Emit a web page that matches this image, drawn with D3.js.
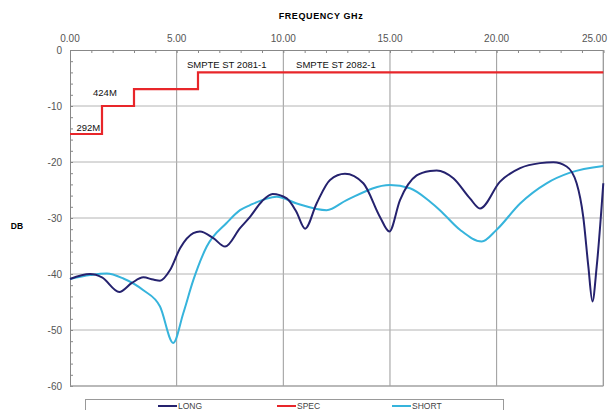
<!DOCTYPE html>
<html>
<head>
<meta charset="utf-8">
<script src="https://cdn.jsdelivr.net/npm/d3@7"></script>
<style>
  body { margin: 0; background: #fff; }
  svg { display: block; font-family: "Liberation Sans", Arial, sans-serif; }
</style>
</head>
<body>
<svg id="chart" width="608" height="410"></svg>
<script>
// frequency (GHz) / dB readings
const longFreq = [0, 0.94, 1.5, 2.31, 2.9, 3.44, 3.9, 4.22, 4.69, 5.16, 5.78, 6.09, 6.72, 7.27, 7.97, 8.44, 9.0, 9.5, 10.16, 10.6, 11.02, 11.56, 12.19, 12.89, 13.75, 14.53, 14.97, 15.47, 16.25, 16.88, 17.19, 17.97, 18.75, 19.22, 20.16, 21.1, 22.03, 22.66, 23.28, 23.75, 24.06, 24.3, 24.49, 24.69, 25];
const longDb   = [-40.9, -40.0, -40.6, -43.2, -41.6, -40.6, -41.0, -41.2, -39.3, -35.4, -32.7, -32.4, -33.6, -35.1, -31.8, -29.8, -27.0, -25.7, -26.5, -28.8, -31.9, -27.4, -23.2, -22.1, -23.8, -29.8, -32.4, -26.8, -22.4, -21.6, -21.5, -22.9, -26.5, -28.3, -23.5, -21.1, -20.2, -20.05, -20.8, -23.8, -29.8, -38.7, -44.9, -38.7, -23.8];

const shortFreq = [0, 0.94, 1.72, 2.5, 3.44, 4.22, 4.84, 5.31, 5.78, 6.41, 7.34, 7.97, 8.44, 9.69, 10.63, 12.03, 12.97, 15.0, 15.94, 16.88, 17.34, 18.28, 19.3, 20.0, 21.1, 22.34, 23.44, 25];
const shortDb   = [-40.9, -40.2, -39.9, -40.8, -42.9, -45.8, -52.3, -47.0, -41.1, -35.1, -30.9, -28.6, -27.7, -26.2, -27.4, -28.6, -26.8, -24.1, -24.7, -27.1, -28.6, -32.1, -34.2, -32.1, -27.4, -23.8, -21.9, -20.7];

const specFreq = [0, 1.5, 1.5, 3.0, 3.0, 6.0, 6.0, 25];
const specDb   = [-15, -15, -10, -10, -7, -7, -4, -4];

const specLabels = ["292M", "424M", "SMPTE ST 2081-1", "SMPTE ST 2082-1"];
const specLabelFreq = [0.3, 1.08, 5.48, 10.6];
const specLabelDb = [-14.5, -8.3, -3.3, -3.3];

const xTicks = [0, 5, 10, 15, 20, 25];
const yTicks = [0, -10, -20, -30, -40, -50, -60];
const seriesNames = ["LONG", "SPEC", "SHORT"];
const seriesColors = ["#25226e", "#e8262a", "#36b4dc"];

const svg = d3.select("#chart");
const plotLeft = 70, plotRight = 603.3, plotTop = 50, plotBottom = 386;

const x = d3.scaleLinear().domain([0, 25]).range([plotLeft, plotRight]);
const y = d3.scaleLinear().domain([0, -60]).range([plotTop, plotBottom]);

// grid
svg.append("g").selectAll("line").data(xTicks.slice(1)).join("line")
    .attr("x1", d => x(d)).attr("x2", d => x(d))
    .attr("y1", plotTop).attr("y2", plotBottom)
    .attr("stroke", "#9a9a9a").attr("stroke-width", 1);
svg.append("g").selectAll("line").data(yTicks.slice(1)).join("line")
    .attr("x1", plotLeft).attr("x2", plotRight)
    .attr("y1", d => y(d)).attr("y2", d => y(d))
    .attr("stroke", "#b4b4b4").attr("stroke-width", 1);

// axes (top and left, ticks pointing inward)
const xAxis = d3.axisTop(x).tickValues(d3.range(0, 26, 1)).tickSize(-3).tickFormat("");
const gx = svg.append("g").attr("transform", `translate(0,${plotTop})`).call(xAxis);
gx.selectAll("line").attr("stroke", "#888");
gx.select(".domain").attr("stroke", "#888");

// last label sits at the window edge, so anchor it at its end
svg.append("g").selectAll("text").data(xTicks).join("text")
    .attr("x", (d, i) => i === xTicks.length - 1 ? 607 : x(d)).attr("y", 42)
    .attr("text-anchor", (d, i) => i === xTicks.length - 1 ? "end" : "middle")
    .attr("font-size", 10).attr("fill", "#555")
    .text(d => d3.format(".2f")(d));

const yAxis = d3.axisLeft(y).tickValues(d3.range(0, -61, -2)).tickSize(-3).tickFormat("");
const gy = svg.append("g").attr("transform", `translate(${plotLeft},0)`).call(yAxis);
gy.selectAll("line").attr("stroke", "#888");
gy.select(".domain").attr("stroke", "#888");

svg.append("g").selectAll("text").data(yTicks).join("text")
    .attr("x", 62).attr("y", d => y(d) + 3.5)
    .attr("text-anchor", "end").attr("font-size", 10).attr("fill", "#555")
    .text(d => d);

// frame right / bottom
svg.append("line").attr("x1", plotRight).attr("x2", plotRight).attr("y1", plotTop).attr("y2", plotBottom).attr("stroke", "#999");
svg.append("line").attr("x1", plotLeft).attr("x2", plotRight).attr("y1", plotBottom).attr("y2", plotBottom).attr("stroke", "#999");

// titles
svg.append("text").attr("x", 321).attr("y", 18.5).attr("text-anchor", "middle")
    .attr("font-size", 9).attr("font-weight", "bold").attr("letter-spacing", 0.6)
    .text("FREQUENCY GHz");
svg.append("text").attr("x", 17).attr("y", 228.5).attr("text-anchor", "middle")
    .attr("font-size", 8.5).attr("font-weight", "bold").text("DB");

// series
const curve = d3.line().x(d => x(d[0])).y(d => y(d[1])).curve(d3.curveMonotoneX);
const step = d3.line().x(d => x(d[0])).y(d => y(d[1]));

svg.append("path").datum(d3.zip(shortFreq, shortDb))
    .attr("d", curve).attr("fill", "none")
    .attr("stroke", seriesColors[2]).attr("stroke-width", 2);
svg.append("path").datum(d3.zip(longFreq, longDb))
    .attr("d", curve).attr("fill", "none")
    .attr("stroke", seriesColors[0]).attr("stroke-width", 2);
svg.append("path").datum(d3.zip(specFreq, specDb))
    .attr("d", step).attr("fill", "none")
    .attr("stroke", seriesColors[1]).attr("stroke-width", 2.2);

svg.append("g").selectAll("text").data(specLabels).join("text")
    .attr("x", (d, i) => x(specLabelFreq[i]))
    .attr("y", (d, i) => y(specLabelDb[i]))
    .attr("font-size", 9.5).attr("fill", "#111")
    .text(d => d);

// legend
svg.append("rect").attr("x", 85.5).attr("y", 399.5).attr("width", 418).attr("height", 20)
    .attr("fill", "#fff").attr("stroke", "#999");
const legendX = [158, 277, 392];
const lg = svg.append("g").selectAll("g").data(seriesNames).join("g")
    .attr("transform", (d, i) => `translate(${legendX[i]},406)`);
lg.append("line").attr("x1", 0).attr("x2", 19).attr("y1", 0).attr("y2", 0)
    .attr("stroke", (d, i) => seriesColors[i]).attr("stroke-width", 2);
lg.append("text").attr("x", 20).attr("y", 3).attr("font-size", 8.5).attr("fill", "#444")
    .text(d => d);
</script>
</body>
</html>
